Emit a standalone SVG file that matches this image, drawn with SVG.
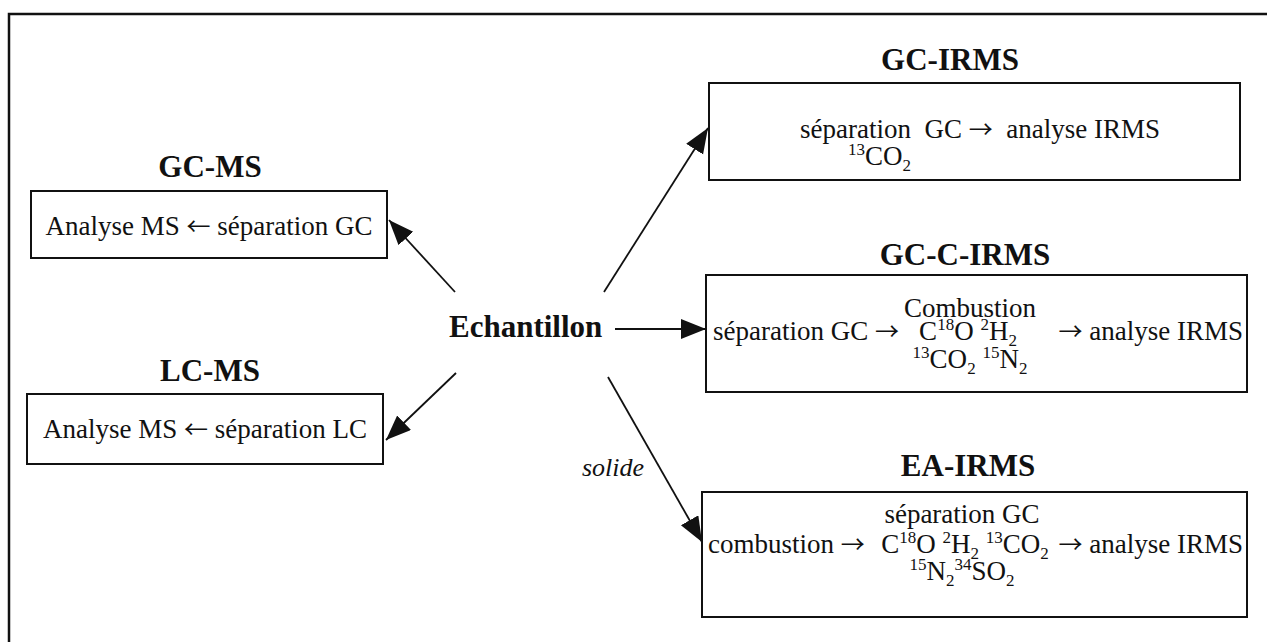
<svg xmlns="http://www.w3.org/2000/svg" width="1267" height="642" viewBox="0 0 1267 642">
<defs>
<marker id="ah" markerUnits="userSpaceOnUse" markerWidth="28" markerHeight="22" refX="25" refY="10" orient="auto">
<path d="M0,0 L25,10 L0,20 z" fill="#111"/>
</marker>
<style>
text{font-family:"Liberation Serif","Times New Roman",serif;fill:#111}
.t{font-size:31px;font-weight:bold;text-anchor:middle}
.b{font-size:27px}
.m{text-anchor:middle}
.e{text-anchor:end}
.s{font-size:17px}
.a{font-family:"Noto Sans CJK SC","DejaVu Serif",sans-serif;font-size:24px}
.box{fill:none;stroke:#111;stroke-width:2}
.c{stroke:#111;stroke-width:1.8;fill:none;marker-end:url(#ah)}
</style>
</defs>
<rect width="1267" height="642" fill="#fff"/>
<path d="M9,642 V14 H1267" fill="none" stroke="#111" stroke-width="2.5"/>

<g id="gcms">
<text class="t" x="210" y="177">GC-MS</text>
<rect class="box" x="31" y="191" width="356" height="67"/>
<text class="b m" x="209" y="235">Analyse MS <tspan class="a">←</tspan> séparation GC</text>
</g>

<g id="lcms">
<text class="t" x="210" y="381">LC-MS</text>
<rect class="box" x="27" y="394" width="356" height="70"/>
<text class="b m" x="205" y="438">Analyse MS <tspan class="a">←</tspan> séparation LC</text>
</g>

<g id="echantillon">
<text style="font-size:31px;font-weight:bold" x="449" y="337">Echantillon</text>
</g>

<g id="gcirms">
<text class="t" x="950" y="70">GC-IRMS</text>
<rect class="box" x="709" y="83" width="531" height="97"/>
<text class="b" x="800" y="138" xml:space="preserve">séparation  GC <tspan class="a">→</tspan>  analyse IRMS</text>
<text class="b" x="848" y="165"><tspan class="s" dy="-10">13</tspan><tspan dy="10">CO</tspan><tspan class="s" dy="6">2</tspan></text>
</g>

<g id="gccirms">
<text class="t" x="965" y="265">GC-C-IRMS</text>
<rect class="box" x="706" y="275" width="541" height="117"/>
<text class="b m" x="970" y="317">Combustion</text>
<text class="b" x="713" y="340">séparation GC <tspan class="a">→</tspan></text>
<text class="b m" x="968" y="340">C<tspan class="s" dy="-10">18</tspan><tspan dy="10">O </tspan><tspan class="s" dy="-10">2</tspan><tspan dy="10">H</tspan><tspan class="s" dy="6">2</tspan></text>
<text class="b e" x="1243" y="340"><tspan class="a">→</tspan> analyse IRMS</text>
<text class="b m" x="970" y="368"><tspan class="s" dy="-10">13</tspan><tspan dy="10">CO</tspan><tspan class="s" dy="6">2</tspan><tspan dy="-6"> </tspan><tspan class="s" dy="-10">15</tspan><tspan dy="10">N</tspan><tspan class="s" dy="6">2</tspan></text>
</g>

<g id="eairms">
<text class="t" x="968" y="476">EA-IRMS</text>
<rect class="box" x="702" y="492" width="545" height="125"/>
<text class="b m" x="962" y="523">séparation GC</text>
<text class="b" x="708" y="553">combustion <tspan class="a">→</tspan></text>
<text class="b m" x="965" y="553">C<tspan class="s" dy="-10">18</tspan><tspan dy="10">O </tspan><tspan class="s" dy="-10">2</tspan><tspan dy="10">H</tspan><tspan class="s" dy="6">2</tspan><tspan dy="-6"> </tspan><tspan class="s" dy="-10">13</tspan><tspan dy="10">CO</tspan><tspan class="s" dy="6">2</tspan></text>
<text class="b e" x="1243" y="553"><tspan class="a">→</tspan> analyse IRMS</text>
<text class="b m" x="962" y="580"><tspan class="s" dy="-10">15</tspan><tspan dy="10">N</tspan><tspan class="s" dy="6">2</tspan><tspan class="s" dy="-16">34</tspan><tspan dy="10">SO</tspan><tspan class="s" dy="6">2</tspan></text>
</g>

<g id="connectors">
<line class="c" x1="455" y1="292" x2="389" y2="220"/>
<line class="c" x1="456" y1="373" x2="386" y2="440"/>
<line class="c" x1="604" y1="292" x2="708" y2="128"/>
<line class="c" x1="615" y1="329" x2="706" y2="329"/>
<line class="c" x1="608" y1="377" x2="702" y2="542"/>
<text style="font-size:26px;font-style:italic" x="582" y="476">solide</text>
</g>
</svg>
